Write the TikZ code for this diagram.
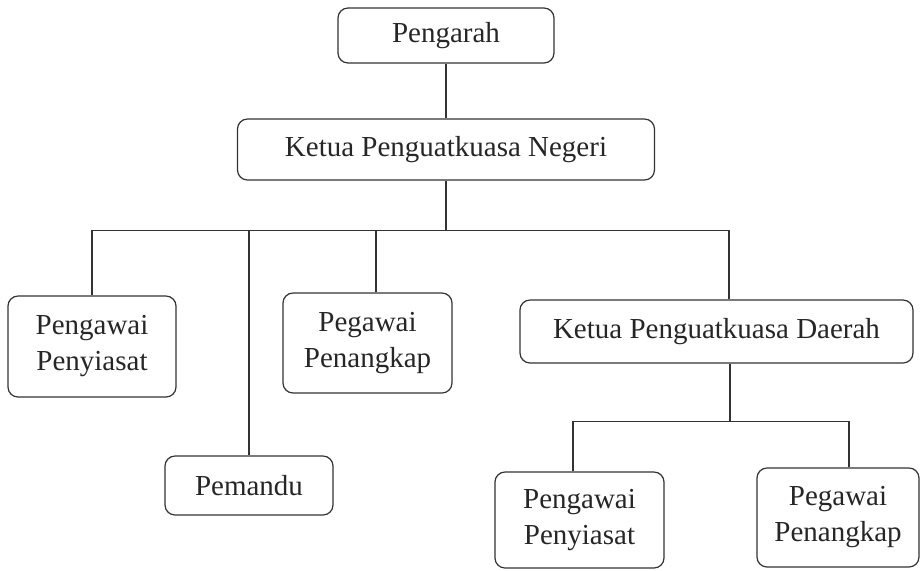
\documentclass[tikz,border=0pt]{standalone}
\usepackage{fontspec}
\setmainfont{Liberation Serif}
\usepackage{tikz}

\tikzset{
  box/.style={draw=black!80, rounded corners=5pt, line width=0.6pt, inner sep=0pt,
              align=center, text=black!85, font=\fontsize{14.5}{18}\selectfont},
  link/.style={draw=black!80, line width=0.6pt}
}

\begin{document}
\begin{tikzpicture}[x=0.5pt, y=-0.5pt]
    % fix the frame
    \useasboundingbox (0,0) rectangle (922,570);

    % draw top boxes
    \node[box, minimum width=108pt, minimum height=27.5pt] (pengarah) at (446, 35.5) {Pengarah};
    \node[box, minimum width=208.5pt, minimum height=30.5pt] (ketua) at (446, 149.5) {Ketua Penguatkuasa Negeri};

    % draw middle boxes
    \node[box, minimum width=84pt, minimum height=50.5pt] (penyiasatA) at (92, 346.5) {Pengawai\\Penyiasat};
    \node[box, minimum width=84pt, minimum height=29.5pt] (pemandu) at (249, 485.5) {Pemandu};
    \node[box, minimum width=84.5pt, minimum height=50pt] (penangkapA) at (367.5, 343) {Pegawai\\Penangkap};
    \node[box, minimum width=196.5pt, minimum height=31.5pt] (daerah) at (716.5, 331.5) {Ketua Penguatkuasa Daerah};

    % draw bottom boxes
    \node[box, minimum width=84.5pt, minimum height=48pt] (penyiasatB) at (579.5, 520) {Pengawai\\Penyiasat};
    \node[box, minimum width=81pt, minimum height=49.5pt] (penangkapB) at (838, 517.5) {Pegawai\\Penangkap};

    % draw links
    \draw[link] (pengarah.south) -- (ketua.north);
    \draw[link] (ketua.south) -- ++(0,50) coordinate (hub);
    \draw[link] (penyiasatA.north) |- (hub) -| ([xshift=6.25pt]daerah.north);
    \draw[link] (pemandu.north) -- (pemandu.north |- hub);
    \draw[link] ([xshift=4.25pt]penangkapA.north) -- ([xshift=4.25pt]penangkapA.north |- hub);

    \draw[link] ([xshift=6.75pt]daerah.south) -- ++(0,58) coordinate (subhub);
    \draw[link] ([xshift=-3.25pt]penyiasatB.north) |- (subhub) -| ([xshift=5.5pt]penangkapB.north);

\end{tikzpicture}
\end{document}
